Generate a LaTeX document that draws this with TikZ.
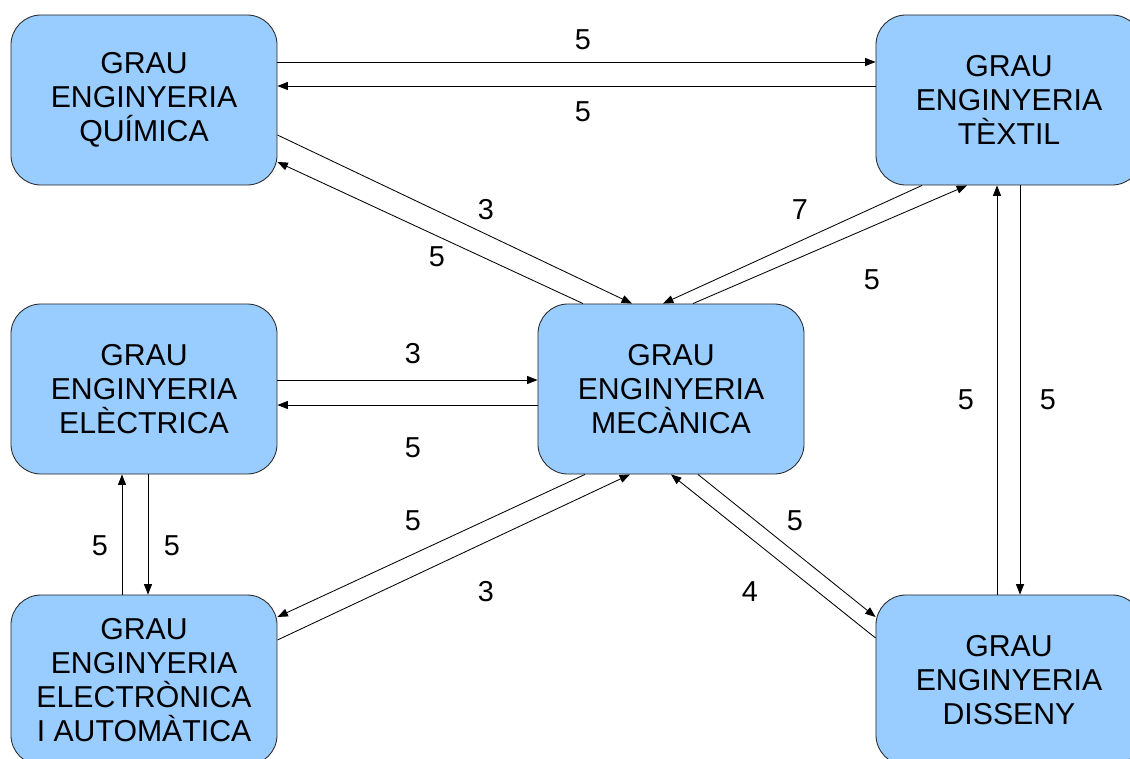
\documentclass[tikz,border=0pt]{standalone}
\usepackage{fontspec}
\setmainfont{Liberation Sans}
\usetikzlibrary{arrows.meta}
\definecolor{graublue}{RGB}{153,204,255}

\begin{document}
\begin{tikzpicture}[x=0.025cm, y=-0.025cm,
		grau/.style={rectangle, rounded corners=0.75cm, draw=black!85, line width=0.6pt, fill=graublue, minimum width=6.65cm, minimum height=4.25cm, align=center, font=\fontsize{21.5}{24.3}\selectfont},
		num/.style={font=\fontsize{20.5}{24}\selectfont},
		flow/.style={-{Triangle[length=0.26cm,width=0.2cm]}, line width=0.6pt}]
		\useasboundingbox (0,0) rectangle (1130,758);
		
		\node (quimica) at (144,100) [grau] {GRAU\\ENGINYERIA\\QUÍMICA};
		\node (textil) at (1009,100) [grau] {GRAU\\ENGINYERIA\\TÈXTIL};
		\node (electrica) at (144,389) [grau] {GRAU\\ENGINYERIA\\ELÈCTRICA};
		\node (mecanica) at (671,389) [grau] {GRAU\\ENGINYERIA\\MECÀNICA};
		\node (electronica) at (144,680) [grau] {GRAU\\ENGINYERIA\\ELECTRÒNICA\\I AUTOMÀTICA};
		\node (disseny) at (1009,680) [grau] {GRAU\\ENGINYERIA\\DISSENY};
		
		% quimica - textil
		\draw[flow] ([yshift=0.95cm]quimica.east) -- ([yshift=0.95cm]textil.west);
		\draw[flow] ([yshift=0.35cm]textil.west) -- ([yshift=0.35cm]quimica.east);
		% quimica - mecanica
		\draw[flow] ([yshift=-0.875cm]quimica.east) -- ([xshift=-0.975cm]mecanica.north);
		\draw[flow] ([xshift=-2.2cm]mecanica.north) -- ([yshift=-1.55cm]quimica.east);
		% mecanica - textil
		\draw[flow] ([xshift=0.55cm]mecanica.north) -- ([xshift=-1.05cm]textil.south);
		\draw[flow] ([xshift=-2.175cm]textil.south) -- ([xshift=-0.2cm]mecanica.north);
		% electrica - mecanica
		\draw[flow] ([yshift=0.225cm]electrica.east) -- ([yshift=0.225cm]mecanica.west);
		\draw[flow] ([yshift=-0.4cm]mecanica.west) -- ([yshift=-0.4cm]electrica.east);
		% electronica - electrica
		\draw[flow] ([xshift=-0.55cm]electronica.north) -- ([xshift=-0.55cm]electrica.south);
		\draw[flow] ([xshift=0.1cm]electrica.south) -- ([xshift=0.1cm]electronica.north);
		% mecanica - electronica
		\draw[flow] ([xshift=-2.15cm]mecanica.south) -- ([yshift=1.575cm]electronica.east);
		\draw[flow] ([yshift=1cm]electronica.east) -- ([xshift=-1.025cm]mecanica.south);
		% mecanica - disseny
		\draw[flow] ([xshift=0.675cm]mecanica.south) -- ([yshift=1.575cm]disseny.west);
		\draw[flow] ([yshift=1.05cm]disseny.west) -- (mecanica.south);
		% disseny - textil
		\draw[flow] ([xshift=-0.3cm]disseny.north) -- ([xshift=-0.3cm]textil.south);
		\draw[flow] ([xshift=0.275cm]textil.south) -- ([xshift=0.275cm]disseny.north);
		
		\node (n_qt) at (583,40) [num] {5};
		\node (n_tq) at (583,112) [num] {5};
		\node (n_qm) at (486,210) [num] {3};
		\node (n_mq) at (437,257) [num] {5};
		\node (n_tm) at (800,210) [num] {7};
		\node (n_mt) at (872,280) [num] {5};
		\node (n_em) at (413,354) [num] {3};
		\node (n_me) at (413,448) [num] {5};
		\node (n_ae) at (100,546) [num] {5};
		\node (n_ea) at (172,546) [num] {5};
		\node (n_dt) at (966,400) [num] {5};
		\node (n_td) at (1048,400) [num] {5};
		\node (n_ma) at (413,521) [num] {5};
		\node (n_am) at (486,592) [num] {3};
		\node (n_md) at (795,521) [num] {5};
		\node (n_dm) at (750,592) [num] {4};
	\end{tikzpicture}
\end{document}
